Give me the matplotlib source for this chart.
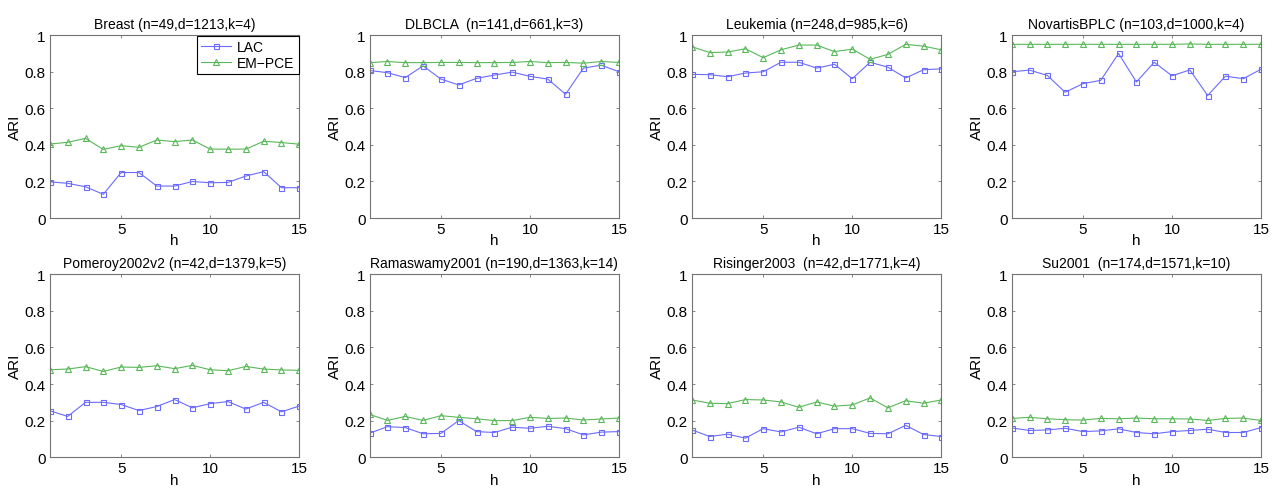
import numpy as np
import matplotlib
matplotlib.use('Agg')
import matplotlib.pyplot as plt

plt.rcParams['font.family'] = ['Liberation Sans', 'DejaVu Sans']

h = np.arange(1, 16)

titles = ['Breast (n=49,d=1213,k=4)',
          'DLBCLA  (n=141,d=661,k=3)',
          'Leukemia (n=248,d=985,k=6)',
          'NovartisBPLC (n=103,d=1000,k=4)',
          'Pomeroy2002v2 (n=42,d=1379,k=5)',
          'Ramaswamy2001 (n=190,d=1363,k=14)',
          'Risinger2003  (n=42,d=1771,k=4)',
          'Su2001  (n=174,d=1571,k=10)']

lac = [
    [0.198, 0.190, 0.171, 0.130, 0.249, 0.249, 0.175, 0.175, 0.200, 0.193, 0.195, 0.230, 0.254, 0.166, 0.166],
    [0.807, 0.795, 0.768, 0.832, 0.760, 0.728, 0.764, 0.782, 0.798, 0.775, 0.760, 0.677, 0.820, 0.836, 0.800],
    [0.786, 0.784, 0.773, 0.793, 0.800, 0.852, 0.852, 0.820, 0.841, 0.762, 0.852, 0.825, 0.766, 0.811, 0.816],
    [0.800, 0.809, 0.780, 0.688, 0.735, 0.753, 0.900, 0.744, 0.852, 0.778, 0.810, 0.670, 0.776, 0.762, 0.814],
    [0.254, 0.223, 0.300, 0.300, 0.288, 0.255, 0.277, 0.315, 0.270, 0.293, 0.304, 0.263, 0.300, 0.248, 0.280],
    [0.131, 0.167, 0.162, 0.128, 0.130, 0.200, 0.140, 0.135, 0.164, 0.158, 0.169, 0.156, 0.122, 0.137, 0.140],
    [0.149, 0.113, 0.126, 0.104, 0.156, 0.138, 0.164, 0.128, 0.156, 0.156, 0.130, 0.128, 0.174, 0.124, 0.113],
    [0.160, 0.146, 0.149, 0.158, 0.140, 0.144, 0.155, 0.135, 0.128, 0.140, 0.146, 0.153, 0.135, 0.135, 0.162],
]

empce = [
    [0.405, 0.414, 0.436, 0.375, 0.396, 0.387, 0.427, 0.418, 0.427, 0.377, 0.377, 0.377, 0.420, 0.413, 0.404],
    [0.850, 0.856, 0.850, 0.850, 0.851, 0.851, 0.850, 0.850, 0.851, 0.856, 0.850, 0.851, 0.847, 0.856, 0.851],
    [0.937, 0.905, 0.908, 0.926, 0.877, 0.920, 0.946, 0.946, 0.910, 0.924, 0.868, 0.895, 0.950, 0.940, 0.920],
    [0.950, 0.950, 0.950, 0.950, 0.950, 0.950, 0.950, 0.950, 0.950, 0.950, 0.952, 0.950, 0.950, 0.950, 0.950],
    [0.478, 0.482, 0.495, 0.469, 0.493, 0.491, 0.500, 0.484, 0.502, 0.478, 0.473, 0.496, 0.482, 0.477, 0.475],
    [0.234, 0.201, 0.223, 0.201, 0.227, 0.218, 0.210, 0.200, 0.200, 0.218, 0.212, 0.214, 0.203, 0.209, 0.214],
    [0.313, 0.295, 0.293, 0.315, 0.313, 0.302, 0.273, 0.302, 0.279, 0.286, 0.324, 0.270, 0.309, 0.295, 0.313],
    [0.212, 0.218, 0.210, 0.205, 0.203, 0.212, 0.210, 0.214, 0.210, 0.210, 0.209, 0.201, 0.212, 0.214, 0.201],
]

blue = (0.42, 0.42, 1.0)
green = (0.35, 0.72, 0.35)

fig = plt.figure(figsize=(12.79, 4.89), dpi=100)

lefts = [0.039, 0.289, 0.541, 0.791]
bottoms = [0.552, 0.063]
w, ht = 0.195, 0.374

for i in range(8):
    r, c = divmod(i, 4)
    ax = fig.add_axes([lefts[c], bottoms[r], w, ht])
    ax.plot(h, lac[i], '-s', color=blue, lw=0.8, ms=3.6,
            mfc='none', mew=0.8, label='LAC')
    ax.plot(h, empce[i], '-^', color=green, lw=0.8, ms=4.2,
            mfc='none', mew=0.8, label='EM\u2212PCE')
    ax.set_xlim(1, 15)
    ax.set_ylim(0, 1)
    ax.set_xticks([5, 10, 15])
    ax.set_yticks([0, 0.2, 0.4, 0.6, 0.8, 1])
    ax.set_yticklabels(['0', '0.2', '0.4', '0.6', '0.8', '1'])
    ax.tick_params(direction='in', top=True, right=True, length=2.5,
                   width=0.6, labelsize=11, pad=3, color='0.45')
    for s in ax.spines.values():
        s.set_color('0.45')
        s.set_linewidth(0.8)
    ax.set_title(titles[i], fontsize=10, pad=5)
    ax.set_ylabel('ARI', fontsize=11, labelpad=2)
    ax.set_xlabel('h', fontsize=11, labelpad=-2)
    if i == 0:
        leg = ax.legend(loc='upper right', fontsize=10, fancybox=False,
                        framealpha=1, edgecolor='black', borderpad=0.3,
                        handlelength=2.2, handletextpad=0.4,
                        borderaxespad=0.05, labelspacing=0.15)
        leg.get_frame().set_linewidth(0.8)

fig.savefig('out.png', dpi=100)
